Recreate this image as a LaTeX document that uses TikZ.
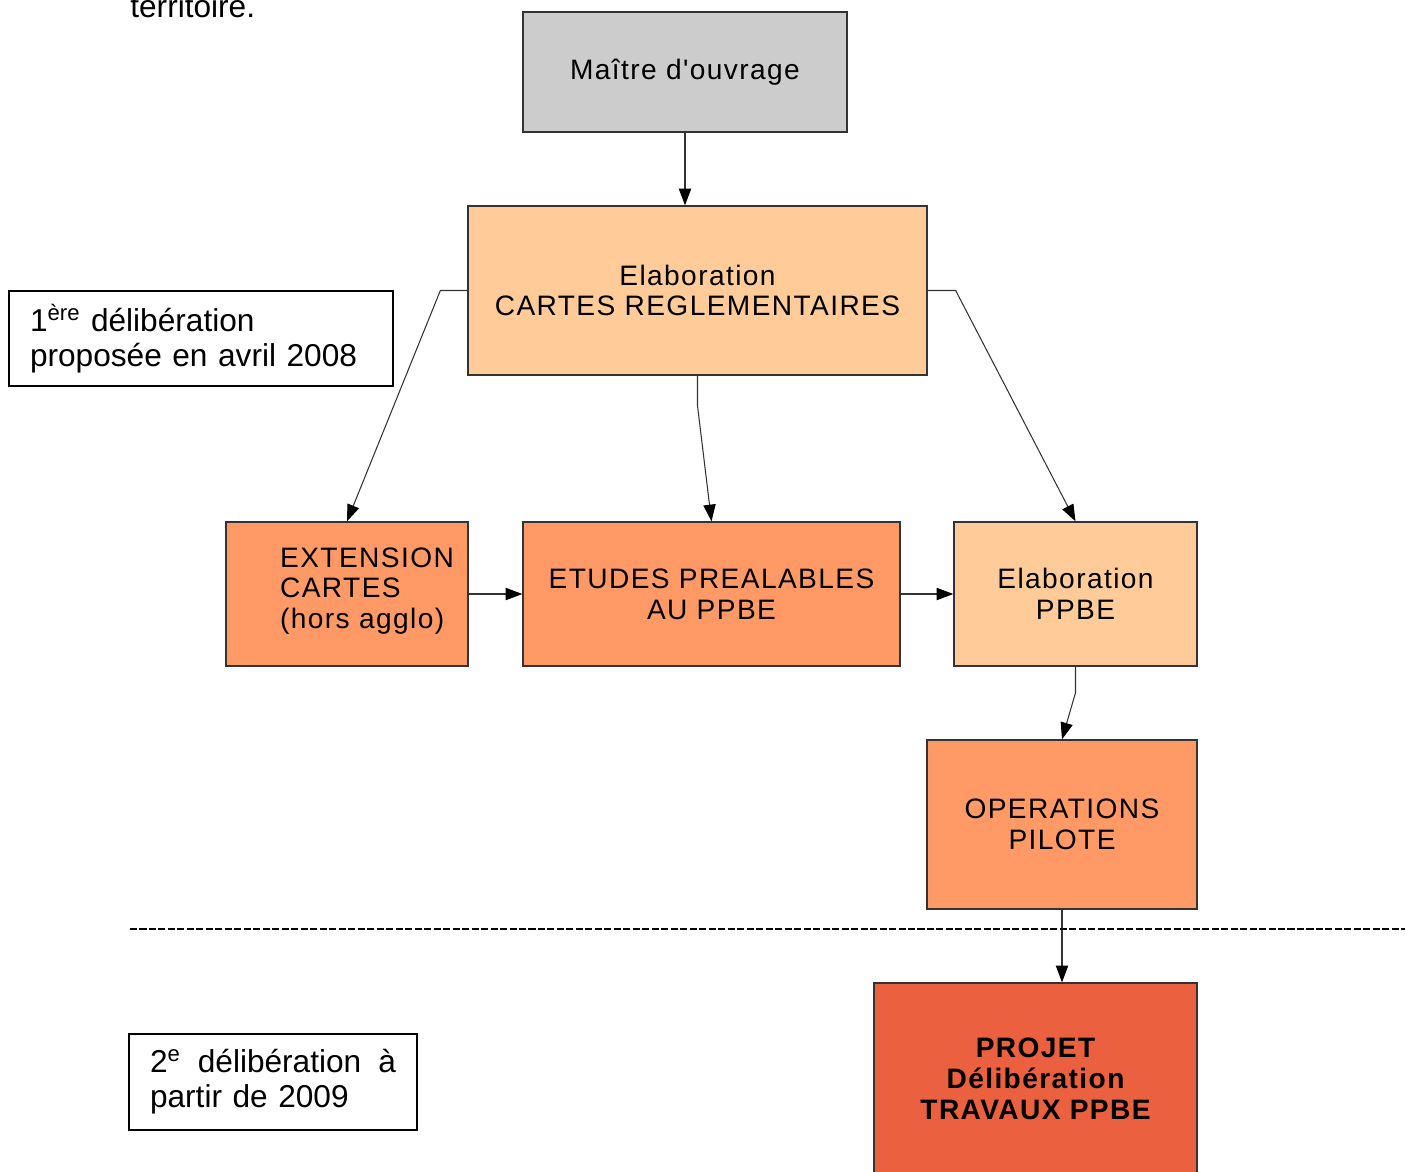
\documentclass[tikz,border=0pt]{standalone}
\usepackage{fontspec}
\setmainfont{Liberation Sans}
\newfontfamily\boxfont[LetterSpace=5]{Liberation Sans}
\usetikzlibrary{arrows.meta}
\definecolor{greybox}{HTML}{CCCCCC}
\definecolor{peach}{HTML}{FFCC99}
\definecolor{salmon}{HTML}{FF9966}
\definecolor{brick}{HTML}{EB613F}
\tikzset{
	boxtext/.style={align=center, font=\boxfont\fontsize{16pt}{17.5pt}\selectfont},
	box/.style={boxtext, rectangle, draw=black!80, line width=0.8pt, inner sep=0pt},
	note/.style={rectangle, draw=black, line width=1pt, align=left, inner ysep=0pt, inner xsep=0.42cm, font=\fontsize{18pt}{20pt}\selectfont},
	conn/.style={draw=black!80, line width=0.6pt, -{Triangle[length=9.5pt,width=7pt,color=black,fill=black]}},
}

\begin{document}
\begin{tikzpicture}[x=0.02cm, y=-0.02cm]
		%%%%% START %%%%%
		\useasboundingbox (0,0) rectangle (1405,1171);
		
		\node[anchor=base west, inner sep=0pt, font=\fontsize{18pt}{20pt}\selectfont] (terr) at (130,17) {territoire.};
		
		\node[box, fill=greybox, minimum width=6.48cm, minimum height=2.4cm] (maitre) at (685,72) {Maître d'ouvrage};
		\node[box, fill=peach, minimum width=9.18cm, minimum height=3.38cm] (cartes) at (697.5,290.5) {Elaboration\\CARTES REGLEMENTAIRES};
		
		\node[box, fill=salmon, minimum width=4.84cm, minimum height=2.88cm] (ext) at (347,594) {};
		\node[boxtext, align=left] (exttxt) at (367,591) {EXTENSION\\CARTES\\(hors agglo)};
		\node[box, fill=salmon, minimum width=7.54cm, minimum height=2.88cm] (etudes) at (711.5,594) {ETUDES PREALABLES\\AU PPBE};
		\node[box, fill=peach, minimum width=4.86cm, minimum height=2.88cm] (elab) at (1075.5,594) {Elaboration\\PPBE};
		
		\node[box, fill=salmon, minimum width=5.4cm, minimum height=3.38cm] (oper) at (1062,824.5) {OPERATIONS\\PILOTE};
		\node[box, fill=brick, minimum width=6.46cm, minimum height=3.84cm, font=\boxfont\bfseries\fontsize{16pt}{17.5pt}\selectfont] (projet) at (1035.5,1079) {PROJET\\Délibération\\TRAVAUX PPBE};
		
		\node[note, text width=6.84cm, minimum height=1.9cm] (delib1) at (201,338.5) {1\textsuperscript{ère} délibération\\proposée en avril 2008};
		\node[note, text width=4.92cm, minimum height=1.92cm] (delib2) at (273,1082) {2\textsuperscript{e}\hfill délibération\hfill à\\partir de 2009};
		
		% liaisons
		\draw[conn] (maitre.south) -- (maitre.south |- cartes.north);
		\draw[conn] (cartes.west) -- ++(-27,0) -- (ext.north);
		\draw[conn] (cartes.south) -- ++(0,30) -- (etudes.north);
		\draw[conn] (cartes.east) -- ++(28,0) -- (elab.north);
		\draw[conn] (ext.east) -- (etudes.west);
		\draw[conn] (etudes.east) -- (elab.west);
		\draw[conn] (elab.south) -- ++(0,26) -- (oper.north);
		\draw[conn] (oper.south) -- ++(0,40) -- (oper.south |- projet.north);
		
		% separation
		\coordinate (cutL) at (130,929);
		\coordinate (cutR) at (1405,929);
		\draw[line width=1.5pt, dash pattern=on 4pt off 1.4pt] (cutL) -- (cutR);
		%%%%% END %%%%%
\end{tikzpicture}
\end{document}
